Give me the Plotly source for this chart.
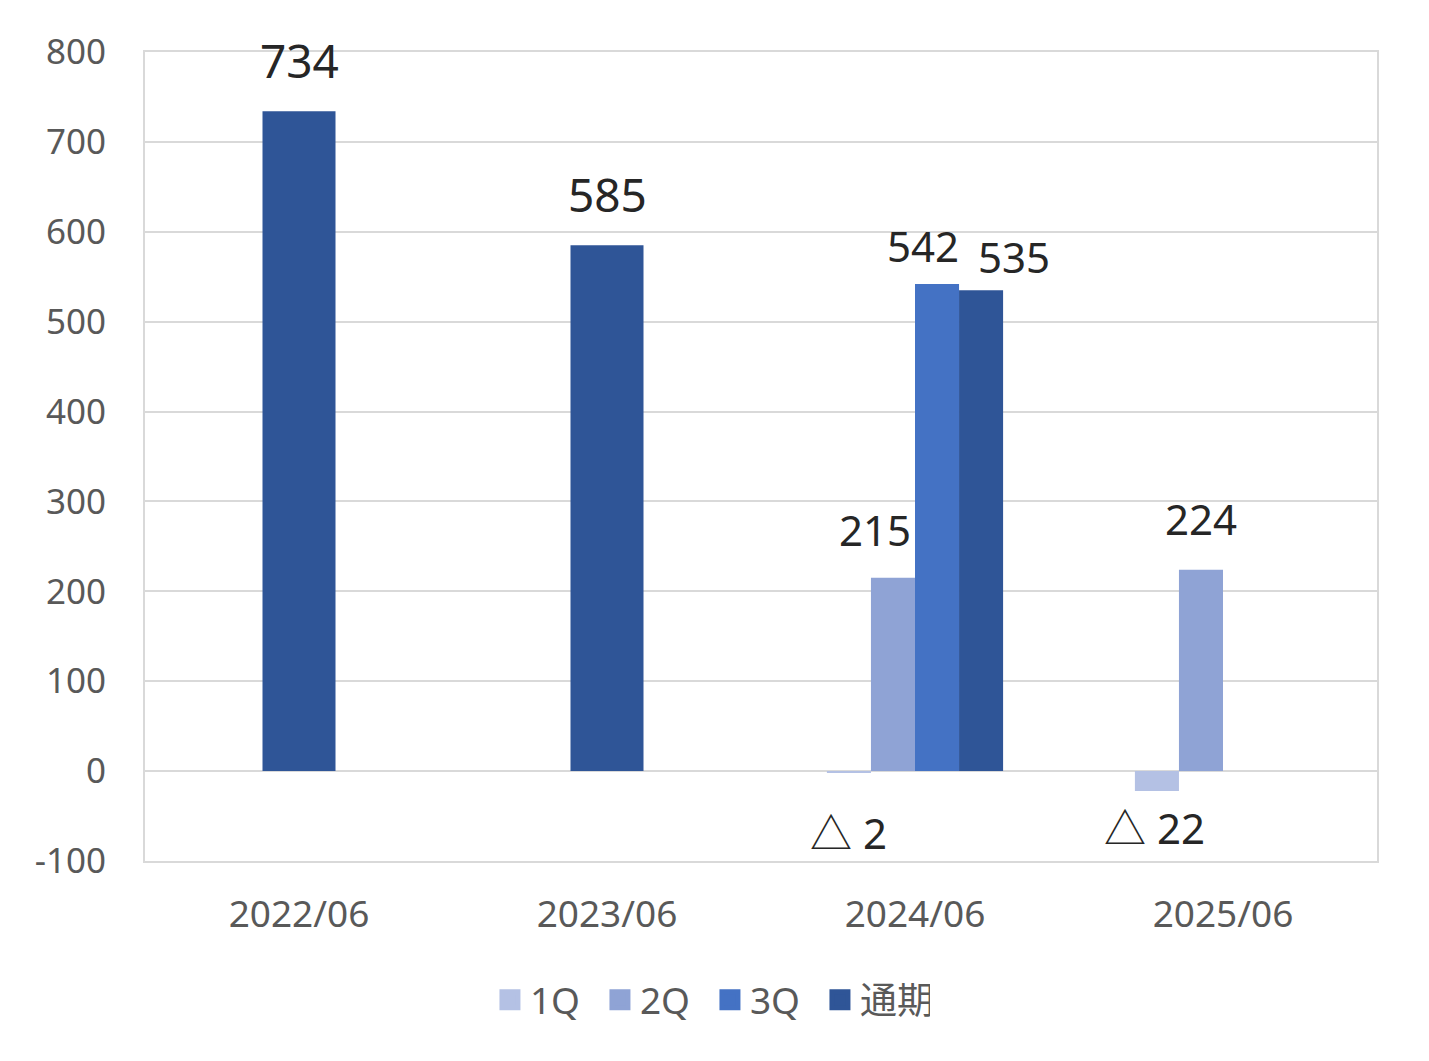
import plotly.graph_objects as go

categories = ["2022/06", "2023/06", "2024/06", "2025/06"]
series_names = ["1Q", "2Q", "3Q", "通期"]
q1 = [None, None, -2, -22]
q2 = [None, None, 215, 224]
q3 = [None, None, 542, None]
full_year = [734, 585, 535, None]
y_ticks = [-100, 0, 100, 200, 300, 400, 500, 600, 700, 800]
y_tick_text = ["-100", "0", "100", "200", "300", "400", "500", "600", "700", "800"]

colors = ["#B4C1E4", "#8FA3D5", "#4472C4", "#2F5597"]
font_family = "Noto Sans, Noto Sans CJK JP, sans-serif"

slot_w = 0.143   # width of one bar in a 4-bar group (category units)
wide_w = 0.237   # width of a lone 通期 bar

# label tweaks (pixel shifts) for labels that Excel had moved by hand
label_shift = {
    (2, 2): (-14, 38),
    (3, 2): (33, 34),
    (1, 2): (-18, 48),
    (0, 2): (0, -60),
    (0, 3): (-2, -37),
}

fig = go.Figure()
annotations = []
all_series = [q1, q2, q3, full_year]

for k, (name, vals) in enumerate(zip(series_names, all_series)):
    xs, ys, widths, offsets = [], [], [], []
    for i, v in enumerate(vals):
        if v is None:
            continue
        alone = all(s[i] is None for j, s in enumerate(all_series) if j != k)
        w = wide_w if alone else slot_w
        off = -w / 2 if alone else (k - 2) * slot_w
        xs.append(categories[i])
        ys.append(v)
        widths.append(w)
        offsets.append(off)

        dx, dy = label_shift.get((k, i), (0, 51 if v >= 0 else -45))
        text = f"{v}" if v >= 0 else f"△ {abs(v)}"
        annotations.append(dict(
            x=i + off + w / 2, y=v, xref="x", yref="y",
            text=text, showarrow=False, xanchor="center", yanchor="middle",
            xshift=dx, yshift=dy,
            font=dict(size=46 if alone else 42, color="#262626", family=font_family),
        ))
    fig.add_trace(go.Bar(
        x=xs, y=ys, width=widths, offset=offsets, name=name,
        marker=dict(color=colors[k], line=dict(width=0)),
        showlegend=False,
    ))
    # legend swatch
    fig.add_trace(go.Scatter(
        x=[None], y=[None], mode="markers", name=name,
        marker=dict(symbol="square", size=16, color=colors[k],
                    line=dict(width=5, color=colors[k])),
    ))

fig.update_layout(
    width=1429, height=1061,
    margin=dict(l=137, r=60, t=44, b=208),
    paper_bgcolor="white", plot_bgcolor="white",
    barmode="overlay",
    font=dict(family=font_family, color="#595959"),
    annotations=annotations,
    legend=dict(
        orientation="h", x=0.28, xanchor="left", y=-0.172, yanchor="middle",
        font=dict(size=37, color="#595959"), itemwidth=30,
        entrywidth=65, entrywidthmode="pixels",
    ),
)
fig.update_xaxes(
    type="category", categoryorder="array", categoryarray=categories,
    range=[-0.5, 3.5], showgrid=False,
    showline=True, mirror=True, linecolor="#D9D9D9", linewidth=2,
    tickfont=dict(size=37, color="#595959"), ticks="", ticklabelstandoff=20,
)
fig.update_yaxes(
    range=[-100, 800], tickvals=y_ticks, ticktext=y_tick_text,
    showgrid=True, gridcolor="#D9D9D9", gridwidth=2,
    zeroline=True, zerolinecolor="#D9D9D9", zerolinewidth=2,
    showline=True, mirror=True, linecolor="#D9D9D9", linewidth=2,
    tickfont=dict(size=35, color="#595959"), ticks="", ticklabelstandoff=30,
)

fig.write_html("out.html")
